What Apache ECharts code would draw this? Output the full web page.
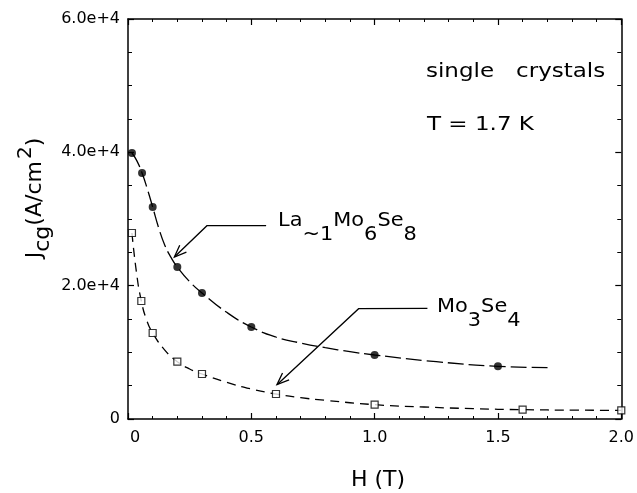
<!DOCTYPE html>
<html><head><meta charset="utf-8">
<script src="https://cdn.jsdelivr.net/npm/echarts@6/dist/echarts.min.js"></script>
<style>html,body{margin:0;padding:0;background:#fff}#c{width:637px;height:493px}</style>
</head><body><div id="c"></div>
<script>
// ---- data ----
// La~1Mo6Se8 (filled circles)
const laH = [0.016, 0.057, 0.1, 0.2, 0.3, 0.5, 1.0, 1.5];
const laJ = [39900, 36900, 31800, 22800, 18900, 13800, 9600, 7900];
// fitted curve drawn through La~1Mo6Se8
const laCurveH = [0.016, 0.035, 0.057, 0.08, 0.1, 0.125, 0.15, 0.175, 0.2, 0.25, 0.3, 0.4, 0.5, 0.6, 0.7, 0.8, 0.9, 1.0, 1.25, 1.5, 1.72];
const laCurveJ = [39900, 38800, 36900, 34300, 31800, 28600, 26000, 24200, 22800, 20600, 18900, 16000, 13800, 12300, 11400, 10700, 10100, 9600, 8600, 7900, 7700];
// Mo3Se4 (open squares)
const moH = [0.016, 0.054, 0.1, 0.2, 0.3, 0.6, 1.0, 1.6, 2.0];
const moJ = [27900, 17700, 12900, 8600, 6750, 3750, 2150, 1400, 1300];
// fitted curve drawn through Mo3Se4
const moCurveH = [0.016, 0.035, 0.054, 0.075, 0.1, 0.15, 0.2, 0.25, 0.3, 0.4, 0.5, 0.6, 0.7, 0.8, 1.0, 1.2, 1.4, 1.6, 1.8, 2.0];
const moCurveJ = [27900, 21800, 17700, 14900, 12900, 10300, 8600, 7500, 6750, 5500, 4500, 3750, 3200, 2800, 2150, 1800, 1550, 1400, 1330, 1300];
// annotation arrows (data coordinates, last point = arrow tip)
const laArrowH = [0.56, 0.32, 0.188];
const laArrowJ = [29000, 29000, 24300];
const moArrowH = [1.214, 0.935, 0.604];
const moArrowJ = [16600, 16550, 5150];
// tick labels
const xTickValues = [0, 0.5, 1.0, 1.5, 2.0];
const xTickLabels = ['0', '0.5', '1.0', '1.5', '2.0'];
const yTickValues = [0, 20000, 40000, 60000];
const yTickLabels = ['0', '2.0e+4', '4.0e+4', '6.0e+4'];

const FONT = 'DejaVu Sans';
const zip = (a, b) => a.map((v, i) => [v, b[i]]);
const arrows = [{h: laArrowH, j: laArrowJ}, {h: moArrowH, j: moArrowJ}];

function lbl(vals, labels, firstRich) {
  return v => {
    for (let i = 0; i < vals.length; i++) {
      if (Math.abs(vals[i] - v) < 1e-9) return (i === 0 && firstRich) ? '{z|' + labels[i] + '}' : labels[i];
    }
    return '';
  };
}

const axisLineStyle = {color: '#000', width: 1.5};
function xAx(pos, show) {
  return {
    type: 'value', min: 0, max: 2, interval: 0.5, position: pos,
    axisLine: {show: true, onZero: false, lineStyle: axisLineStyle},
    axisTick: {show: true, inside: true, length: 6, lineStyle: {color: '#000', width: 1.2}},
    minorTick: {show: true, splitNumber: 5, length: 3, lineStyle: {color: '#000', width: 1}},
    splitLine: {show: false}, minorSplitLine: {show: false},
    axisLabel: {show: show, formatter: lbl(xTickValues, xTickLabels, true), fontSize: 16, fontFamily: FONT, color: '#000', margin: 11,
      rich: {z: {fontSize: 16, fontFamily: FONT, color: '#000', padding: [0, 0, 0, 14]}}}
  };
}
function yAx(pos, show) {
  return {
    type: 'value', min: 0, max: 60000, interval: 20000, position: pos,
    axisLine: {show: true, onZero: false, lineStyle: axisLineStyle},
    axisTick: {show: true, inside: true, length: 6, lineStyle: {color: '#000', width: 1.2}},
    minorTick: {show: true, splitNumber: 4, length: 4, lineStyle: {color: '#000', width: 1}},
    splitLine: {show: false}, minorSplitLine: {show: false},
    axisLabel: {show: show, formatter: lbl(yTickValues, yTickLabels, false), fontSize: 16, fontFamily: FONT, color: '#000', margin: 8}
  };
}

const subRich = {
  m: {fontSize: 19, fontFamily: FONT, lineHeight: 19, padding: [0, 0, 0, 0], verticalAlign: 'top', fill: '#000'},
  s: {fontSize: 19, fontFamily: FONT, lineHeight: 19, padding: [14, 0, 0, 0], verticalAlign: 'top', fill: '#000'}
};

const chart = echarts.init(document.getElementById('c'), null, {renderer: 'canvas'});
const option = {
  animation: false,
  backgroundColor: '#fff',
  grid: {left: 128, right: 15, top: 19, bottom: 74, containLabel: false},
  xAxis: [xAx('bottom', true), xAx('top', false)],
  yAxis: [yAx('left', true), yAx('right', false)],
  series: [
    {type: 'line', data: zip(laCurveH, laCurveJ), smooth: 0.5, showSymbol: false,
     lineStyle: {color: '#000', width: 1.3, type: [16, 5]}, z: 2},
    {type: 'line', data: zip(moCurveH, moCurveJ), smooth: 0.5, showSymbol: false,
     lineStyle: {color: '#000', width: 1.3, type: [9, 6]}, z: 2},
    {type: 'scatter', data: zip(laH, laJ), symbol: 'circle', symbolSize: 8, clip: false,
     itemStyle: {color: '#000'}, z: 4},
    {type: 'scatter', data: zip(moH, moJ), symbol: 'rect', symbolSize: 7, clip: false,
     itemStyle: {color: '#fff', borderColor: '#000', borderWidth: 1.2}, z: 4},
    {type: 'custom', data: [[0, 0], [1, 0]], clip: false, z: 5,
     renderItem: function (params, api) {
       const a = arrows[params.dataIndex];
       const pts = a.h.map((h, i) => api.coord([h, a.j[i]]));
       const tip = pts[pts.length - 1], prev = pts[pts.length - 2];
       const ang = Math.atan2(tip[1] - prev[1], tip[0] - prev[0]);
       const L = 13, spread = 0.38;
       const p1 = [tip[0] - L * Math.cos(ang - spread), tip[1] - L * Math.sin(ang - spread)];
       const p2 = [tip[0] - L * Math.cos(ang + spread), tip[1] - L * Math.sin(ang + spread)];
       return {type: 'group', children: [
         {type: 'polyline', shape: {points: pts}, style: {stroke: '#000', lineWidth: 1.3, fill: null}},
         {type: 'polyline', shape: {points: [p1, tip, p2]}, style: {stroke: '#000', lineWidth: 1.3, fill: null}}
       ]};
     }}
  ],
  graphic: [
    {type: 'text', x: 426, y: 62, scaleX: 1.15, style: {text: 'single   crystals', fontSize: 20, fontFamily: FONT, fill: '#000', verticalAlign: 'top'}},
    {type: 'text', x: 427, y: 115, scaleX: 1.15, style: {text: 'T = 1.7 K', fontSize: 20, fontFamily: FONT, fill: '#000', verticalAlign: 'top'}},
    {type: 'text', x: 278, y: 212, scaleX: 1.1, style: {
      text: '{m|La}{s|~1}{m|Mo}{s|6}{m|Se}{s|8}', verticalAlign: 'top', fill: '#000', rich: subRich}},
    {type: 'text', x: 437, y: 298, scaleX: 1.1, style: {
      text: '{m|Mo}{s|3}{m|Se}{s|4}', verticalAlign: 'top', fill: '#000', rich: subRich}},
    {type: 'text', x: 27, y: 198, rotation: Math.PI / 2, style: {
      text: '{m|J}{s|cg}{m|(A/cm}{p|2}{m|)}', align: 'center', verticalAlign: 'middle', fill: '#000',
      rich: {
        m: {fontSize: 22, fontFamily: FONT, lineHeight: 22, padding: [8, 0, 0, 0], verticalAlign: 'top', fill: '#000'},
        s: {fontSize: 22, fontFamily: FONT, lineHeight: 22, padding: [16, 0, 0, 0], verticalAlign: 'top', fill: '#000'},
        p: {fontSize: 20, fontFamily: FONT, lineHeight: 20, padding: [0, 0, 0, 2], verticalAlign: 'top', fill: '#000'}
      }}},
    {type: 'text', x: 378, y: 480, style: {text: 'H (T)', fontSize: 22, fontFamily: FONT, fill: '#000', align: 'center', verticalAlign: 'middle'}}
  ]
};
chart.setOption(option);
</script></body></html>
